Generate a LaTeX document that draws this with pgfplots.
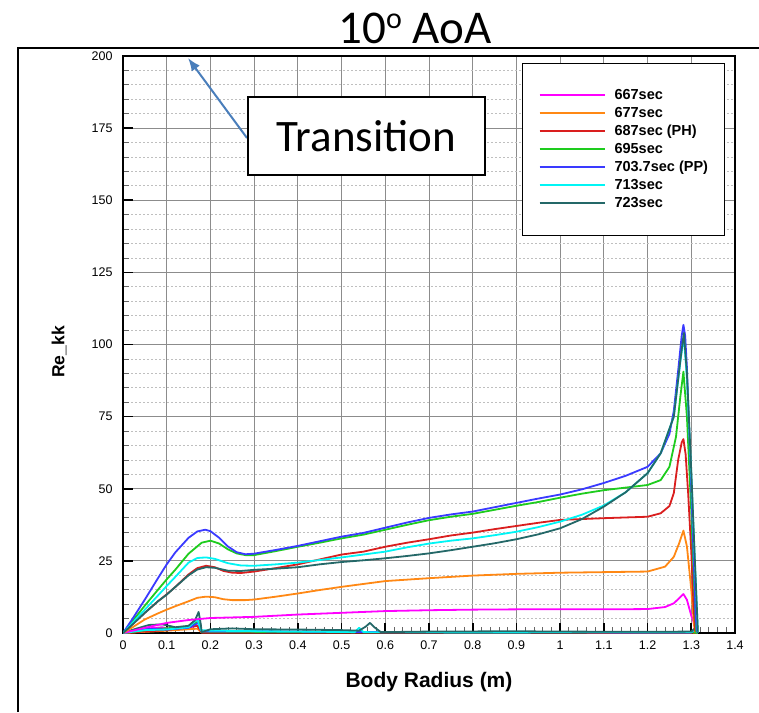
\documentclass[border=0pt]{standalone}
\usepackage{fontspec}
\setmainfont{Liberation Sans}
\newfontfamily\calibri{Carlito}
\usepackage{pgfplots}
\pgfplotsset{compat=1.18}
\usetikzlibrary{arrows.meta}
\definecolor{cMag}{RGB}{255,0,255}
\definecolor{cOra}{RGB}{255,136,20}
\definecolor{cRed}{RGB}{218,30,30}
\definecolor{cGre}{RGB}{30,204,30}
\definecolor{cBlu}{RGB}{58,58,255}
\definecolor{cCya}{RGB}{0,245,245}
\definecolor{cTea}{RGB}{36,104,104}
\definecolor{cArr}{RGB}{74,126,187}
\begin{document}
\begin{tikzpicture}[x=1pt,y=1pt]
\useasboundingbox (0,0) rectangle (759,712);
\fill[white] (0,0) rectangle (759,712);
\draw[line width=2pt] (18,0) -- (18,664) -- (759,664);
\begin{axis}[
  at={(123pt,79pt)}, anchor=south west, scale only axis,
  width=612pt, height=577pt,
  xmin=0, xmax=1.4, ymin=0, ymax=200,
  xtick={0,0.1,0.2,0.3,0.4,0.5,0.6,0.7,0.8,0.9,1,1.1,1.2,1.3,1.4},
  ytick={0,25,50,75,100,125,150,175,200},
  minor x tick num=4, minor y tick num=4,
  xtick pos=bottom, ytick pos=left, tick align=inside,
  major tick length=10pt, minor tick length=6pt,
  major tick style={black, line width=1.6pt},
  minor tick style={black!60, line width=0.8pt},
  xmajorgrids, ymajorgrids, yminorgrids,
  major grid style={black!45, line width=0.9pt},
  minor grid style={black!25, line width=0.8pt, dash pattern=on 2pt off 2pt},
  axis line style={line width=1.8pt},
  /pgf/number format/assume math mode=true,
  yticklabel style={font=\fontsize{12.5}{13}\selectfont, xshift=-7pt},
  xticklabel style={font=\fontsize{12.5}{13}\selectfont, yshift=-4pt},
  legend style={at={(0.652,0.988)}, anchor=north west, draw=black, line width=1pt, fill=white,
    inner xsep=16pt, inner ysep=25pt, row sep=4pt, column sep=9pt,
    font=\fontsize{14.5}{15}\selectfont\bfseries,
    nodes={inner sep=0pt, text height=11pt, text depth=3pt},
    cells={anchor=west}},
  legend image code/.code={\draw[#1, line width=2pt] (0pt,0pt) -- (65pt,0pt);},
  every axis plot/.append style={line width=1.8pt, line join=round},
]
% near-zero curves
\addplot[cMag, forget plot] coordinates {(0,0)(0.05,1.5)(0.09,2)(0.12,1)(0.17,2.5)(0.18,0.3)(0.4,0.3)(1.3,0.2)(1.31,1)(1.315,0)};
\addplot[cOra, forget plot] coordinates {(0,0)(0.1,0.8)(0.17,1.5)(0.18,0.2)(1.3,0.2)(1.315,0)};
\addplot[cRed, forget plot] coordinates {(0,0)(0.1,1)(0.17,2.5)(0.18,0.2)(0.4,0.3)(1.3,0.2)(1.315,0)};
\addplot[cGre, forget plot] coordinates {(0,0)(0.08,1.5)(0.15,2)(0.172,4)(0.18,0.5)(0.3,0.4)(1.3,0.3)(1.315,0)};
\addplot[cBlu, forget plot] coordinates {(0,0)(0.05,1.5)(0.1,1.2)(0.15,1.8)(0.172,3.5)(0.18,0.5)(0.3,0.6)(0.6,0.3)(1.3,0.2)(1.31,1.5)(1.315,0)};
\addplot[cCya, forget plot] coordinates {(0,0)(0.05,1)(0.1,1.2)(0.15,2)(0.17,4.8)(0.178,1)(0.2,0.8)(0.4,0.5)(0.53,0.3)(0.54,1.8)(0.55,0.3)(0.8,0.2)(1.3,0.3)(1.31,1.5)(1.315,0)};
\addplot[cTea, forget plot] coordinates {(0,0)(0.03,1.5)(0.06,2.8)(0.09,3)(0.12,2)(0.15,2.5)(0.165,4.5)(0.173,7.3)(0.178,3)(0.18,0.3)(0.2,1.3)(0.25,1.6)(0.3,1.3)(0.4,1.2)(0.5,1)(0.54,0.8)(0.555,2.2)(0.565,3.5)(0.575,2)(0.59,0.3)(0.7,0.5)(0.9,0.6)(1.0,0.5)(1.2,0.4)(1.3,0.5)(1.31,2)(1.315,0)};
% main curves
\addplot[cMag] coordinates {(0,0)(0.05,1.8)(0.1,3.5)(0.15,4.5)(0.2,5.2)(0.3,5.6)(0.4,6.4)(0.5,7)(0.6,7.6)(0.7,7.9)(0.8,8.1)(0.9,8.2)(1.0,8.2)(1.1,8.2)(1.2,8.3)(1.24,9)(1.26,10.3)(1.272,12)(1.282,13.5)(1.29,11.5)(1.3,6)(1.305,3.9)(1.31,0.5)};
\addlegendentry{667sec}
\addplot[cOra] coordinates {(0,0)(0.02,1.8)(0.05,4.7)(0.08,6.8)(0.1,8.1)(0.12,9.3)(0.15,11)(0.17,12.2)(0.19,12.6)(0.21,12.4)(0.23,11.7)(0.25,11.4)(0.28,11.4)(0.3,11.6)(0.35,12.6)(0.4,13.7)(0.45,14.9)(0.5,16)(0.55,17)(0.6,18)(0.7,19)(0.8,19.9)(0.9,20.5)(1.0,20.9)(1.1,21.1)(1.2,21.3)(1.24,23)(1.26,26.4)(1.272,31)(1.282,35.5)(1.29,30)(1.3,15)(1.306,3)(1.309,0.3)};
\addlegendentry{677sec}
\addplot[cRed] coordinates {(0,0)(0.02,2.8)(0.05,7)(0.08,11)(0.1,13.4)(0.12,16)(0.15,20.3)(0.17,22.5)(0.19,23.3)(0.21,22.8)(0.23,21.5)(0.25,20.9)(0.27,20.8)(0.3,21.3)(0.35,22.5)(0.4,23.8)(0.45,25.5)(0.5,27.2)(0.55,28.2)(0.6,29.9)(0.65,31.3)(0.7,32.5)(0.75,33.8)(0.8,34.8)(0.85,36)(0.9,37.1)(0.95,38.2)(1.0,39.2)(1.1,39.8)(1.2,40.3)(1.23,41.5)(1.25,44)(1.26,48.5)(1.27,60)(1.278,66)(1.282,67.2)(1.287,62)(1.293,48)(1.3,28)(1.305,10)(1.309,0.5)};
\addlegendentry{687sec (PH)}
\addplot[cGre] coordinates {(0,0)(0.02,3.8)(0.05,9.5)(0.08,15)(0.1,18.6)(0.12,22)(0.15,27.5)(0.18,31.3)(0.2,32)(0.22,31)(0.24,29)(0.26,27.6)(0.28,27)(0.3,27)(0.35,28.4)(0.4,29.9)(0.45,31.3)(0.5,32.8)(0.55,34.1)(0.6,35.8)(0.65,37.5)(0.7,39.1)(0.75,40.3)(0.8,41.3)(0.85,42.7)(0.9,44.1)(0.95,45.4)(1.0,46.9)(1.05,48.3)(1.1,49.5)(1.15,50.4)(1.2,51.3)(1.23,53)(1.25,57.6)(1.265,68)(1.275,82)(1.282,90.6)(1.29,75)(1.3,42)(1.306,18)(1.311,0.5)};
\addlegendentry{695sec}
\addplot[cBlu] coordinates {(0,0)(0.02,4.5)(0.05,11.6)(0.08,19)(0.1,23.8)(0.12,28)(0.15,33)(0.17,35.2)(0.188,35.8)(0.2,35.3)(0.22,33)(0.24,30)(0.26,28)(0.28,27.3)(0.3,27.5)(0.35,28.8)(0.4,30.2)(0.45,31.8)(0.5,33.4)(0.55,34.7)(0.6,36.5)(0.65,38.3)(0.7,39.9)(0.75,41.1)(0.8,42.1)(0.85,43.6)(0.9,45.1)(0.95,46.6)(1.0,48)(1.05,49.8)(1.1,52)(1.15,54.5)(1.2,57.6)(1.23,62.3)(1.25,69)(1.26,77)(1.27,91)(1.278,103)(1.282,106.8)(1.286,103)(1.29,92)(1.3,50)(1.305,28)(1.31,6)(1.313,0.5)};
\addlegendentry{703.7sec (PP)}
\addplot[cCya] coordinates {(0,0)(0.02,3.2)(0.05,8.1)(0.08,13)(0.1,16.3)(0.12,19.5)(0.15,24.4)(0.17,26)(0.19,26.2)(0.21,25.7)(0.24,24.2)(0.27,23.4)(0.3,23.3)(0.35,23.8)(0.4,24.4)(0.45,25.3)(0.5,26.2)(0.55,27.2)(0.6,28.2)(0.65,29.7)(0.7,31)(0.75,32)(0.8,32.8)(0.85,33.9)(0.9,35.1)(0.95,36.7)(1.0,38.6)(1.05,41)(1.1,44.2)(1.15,48.8)(1.2,55.4)(1.23,62.3)(1.26,75)(1.275,94)(1.283,103)(1.29,88)(1.3,55)(1.308,25)(1.315,0.5)};
\addlegendentry{713sec}
\addplot[cTea] coordinates {(0,0)(0.02,2.7)(0.05,7)(0.08,11)(0.1,13.3)(0.12,16)(0.15,20)(0.17,22)(0.19,22.8)(0.21,22.6)(0.24,21.6)(0.27,21.5)(0.3,21.9)(0.35,22.3)(0.4,22.8)(0.45,23.8)(0.5,24.6)(0.55,25.2)(0.6,25.9)(0.65,26.7)(0.7,27.6)(0.75,28.7)(0.8,29.9)(0.85,31.1)(0.9,32.5)(0.95,34.2)(1.0,36.3)(1.05,39.5)(1.1,43.8)(1.15,48.8)(1.2,55.4)(1.23,62.3)(1.26,75)(1.275,94.6)(1.283,104)(1.29,90)(1.3,56)(1.308,26)(1.315,0.5)};
\addlegendentry{723sec}
\end{axis}
\node[rotate=90, font=\fontsize{17.5}{17.5}\selectfont\bfseries] at (59,360) {Re\_kk};
\node[anchor=base, font=\fontsize{21}{21}\selectfont\bfseries] at (429,25) {Body Radius (m)};
\node[anchor=base] at (415,668) {\calibri\fontsize{47}{47}\selectfont 10\raisebox{15pt}{\fontsize{30}{30}\selectfont o} AoA};
\draw[-{Latex[length=13pt,width=10pt]}, cArr, line width=2pt] (247,574) -- (188,654);
\node[draw, line width=1.3pt, fill=white, minimum width=237pt, minimum height=78pt, inner sep=0pt] at (366.5,576) {\calibri\fontsize{45}{45}\selectfont Transition};
\end{tikzpicture}
\end{document}
